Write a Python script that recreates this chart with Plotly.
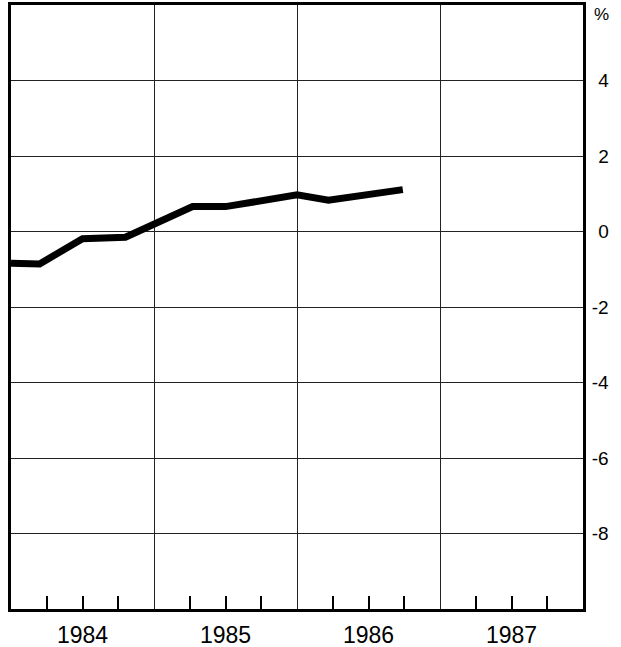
import plotly.graph_objects as go

# Data (x as fractional year, y in %)
dates = [1984.00, 1984.20, 1984.50, 1984.80, 1985.27, 1985.50, 1986.00, 1986.22, 1986.74]
values = [-0.84, -0.86, -0.19, -0.15, 0.66, 0.66, 0.97, 0.83, 1.11]

year_labels = ["1984", "1985", "1986", "1987"]
year_mid = [1984.5, 1985.5, 1986.5, 1987.5]
quarter_ticks = [1984.25, 1984.75, 1985.25, 1985.75, 1986.25, 1986.75, 1987.25, 1987.75]
year_bounds = [1985, 1986, 1987]

y_ticks = [-8, -6, -4, -2, 0, 2, 4]
y_text = ["-8", "-6", "-4", "-2", "\u20040", "\u20042", "\u20044"]

fig = go.Figure()
fig.add_trace(go.Scatter(x=dates, y=values, mode="lines",
                         line=dict(color="black", width=7), showlegend=False,
                         hoverinfo="skip"))

font = "Liberation Sans, Arial, Helvetica, sans-serif"

fig.update_layout(
    template="none",
    width=621, height=647,
    margin=dict(l=11, r=38, t=5, b=38, autoexpand=False),
    plot_bgcolor="white", paper_bgcolor="white",
    font=dict(family=font, color="black"),
    xaxis=dict(
        range=[1984, 1988], automargin=False,
        tickmode="array", tickvals=year_mid, ticktext=year_labels,
        ticks="inside", ticklen=13, tickwidth=1.5, tickcolor="black",
        tickfont=dict(size=23, family=font),
        showgrid=False, zeroline=False,
        showline=True, linewidth=3, linecolor="black", mirror=True,
        ticklabelstandoff=3,
    ),
    yaxis=dict(
        range=[-10, 6], side="right", automargin=False,
        tickmode="array", tickvals=y_ticks, ticktext=y_text,
        ticks="", tickfont=dict(size=19, family=font),
        showgrid=True, gridcolor="#222", gridwidth=1,
        zeroline=False,
        showline=True, linewidth=3, linecolor="black", mirror=True,
        ticklabelstandoff=2,
    ),
    xaxis2=dict(
        range=[1984, 1988], overlaying="x", anchor="y", automargin=False,
        tickmode="array", tickvals=year_bounds, showticklabels=False,
        ticks="", showgrid=True, gridcolor="#222", gridwidth=1,
        zeroline=False, showline=False,
    ),
    xaxis3=dict(
        range=[1984, 1988], overlaying="x", anchor="y", automargin=False,
        tickmode="array", tickvals=quarter_ticks, showticklabels=False,
        ticks="inside", ticklen=13, tickwidth=1.5, tickcolor="black",
        showgrid=False, zeroline=False, showline=False, side="bottom",
    ),
    annotations=[dict(text="%", xref="paper", yref="paper", x=1, y=1,
                      xanchor="left", yanchor="top", xshift=9, yshift=2,
                      showarrow=False, font=dict(size=17, family=font))],
)

# invisible traces to activate overlay axes
fig.add_trace(go.Scatter(x=[1984], y=[0], xaxis="x2", mode="markers",
                         marker=dict(opacity=0), showlegend=False, hoverinfo="skip"))
fig.add_trace(go.Scatter(x=[1984], y=[0], xaxis="x3", mode="markers",
                         marker=dict(opacity=0), showlegend=False, hoverinfo="skip"))

fig.write_html("out.html", config={"displayModeBar": False},
               post_script="document.body.style.margin='0';document.body.style.padding='0';")
